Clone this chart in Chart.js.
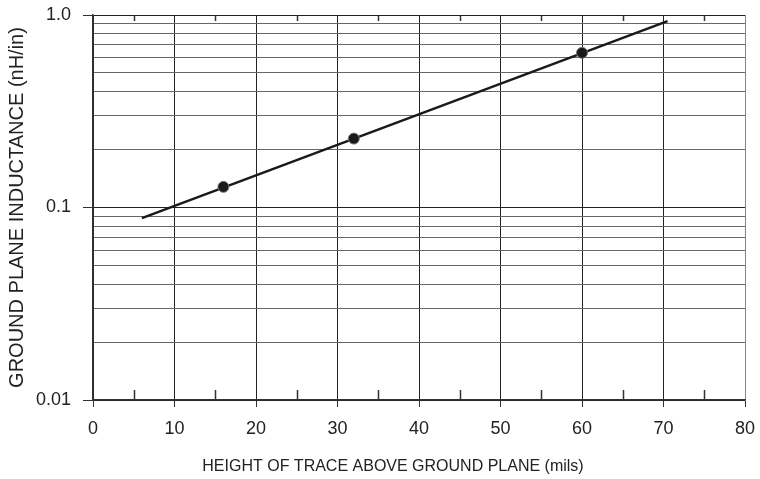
<!DOCTYPE html>
<html lang="en">
<head>
    <meta charset="UTF-8">
    <title>Ground Plane Inductance</title>
    <script src="https://cdn.jsdelivr.net/npm/chart.js"></script>
    <style>
        body { margin: 0; background: #fff; }
        #wrap { width: 760px; height: 479px; }
    </style>
</head>
<body>
<div id="wrap"><canvas id="inductChart"></canvas></div>
<script>
    // data
    var lineHeights = [6, 70.5];
    var lineInductance = [0.088, 0.93];
    var pointHeights = [16, 32, 60];
    var pointInductance = [0.128, 0.228, 0.636];
    var yTickValues = [0.01, 0.02, 0.03, 0.04, 0.05, 0.06, 0.07, 0.08, 0.09,
                       0.1, 0.2, 0.3, 0.4, 0.5, 0.6, 0.7, 0.8, 0.9, 1.0];
    var yTickLabels = { "0.01": "0.01", "0.1": "0.1", "1": "1.0" };
    var xMinorTicks = [5, 15, 25, 35, 45, 55, 65, 75];
    var xTitle = "HEIGHT OF TRACE ABOVE GROUND PLANE (mils)";
    var yTitle = "GROUND PLANE INDUCTANCE (nH/in)";

    var fontFam = "'Liberation Sans', Arial, sans-serif";

    function toXY(xs, ys) {
        var out = [];
        for (var i = 0; i < xs.length; i++) {
            out.push({ x: xs[i], y: ys[i] });
        }
        return out;
    }

    // short inward ticks at 5, 15, ... on top and bottom edges,
    // plus the x title, which sits a little left of the plot centre
    var extras = {
        id: "extras",
        afterDraw: function(chart) {
            var ctx = chart.ctx;
            var xs = chart.scales.x;
            var area = chart.chartArea;
            ctx.save();
            ctx.strokeStyle = "#333";
            ctx.lineWidth = 1.5;
            ctx.beginPath();
            for (var i = 0; i < xMinorTicks.length; i++) {
                var px = Math.round(xs.getPixelForValue(xMinorTicks[i])) + 0.5;
                ctx.moveTo(px, area.bottom);
                ctx.lineTo(px, area.bottom - 10);
                ctx.moveTo(px, area.top);
                ctx.lineTo(px, area.top + 6);
            }
            ctx.stroke();

            ctx.fillStyle = "#222";
            ctx.font = "16px " + fontFam;
            ctx.textAlign = "center";
            ctx.textBaseline = "middle";
            ctx.fillText(xTitle, (area.left + area.right) / 2 - 26, xs.bottom - 12);
            ctx.restore();
        }
    };

    var isDecade = function(v) {
        return yTickLabels[String(v)] !== undefined;
    };

    new Chart(document.getElementById("inductChart"), {
        type: "scatter",
        data: {
            datasets: [{
                data: toXY(lineHeights, lineInductance),
                showLine: true,
                borderColor: "#1a1a1a",
                borderWidth: 2.5,
                pointRadius: 0,
                order: 2
            }, {
                data: toXY(pointHeights, pointInductance),
                showLine: false,
                backgroundColor: "#1a1a1a",
                borderColor: "#777",
                borderWidth: 1,
                pointRadius: 5.5,
                order: 1
            }]
        },
        options: {
            responsive: true,
            maintainAspectRatio: false,
            animation: false,
            layout: { padding: { top: 15, right: 15, left: 0, bottom: 0 } },
            plugins: {
                legend: { display: false },
                tooltip: { enabled: false }
            },
            scales: {
                x: {
                    type: "linear",
                    min: 0,
                    max: 80,
                    afterFit: function(scale) {
                        scale.height = 79;
                        scale.paddingLeft = 0;
                        scale.paddingRight = 0;
                    },
                    ticks: {
                        stepSize: 10,
                        color: "#222",
                        padding: 11,
                        font: { family: fontFam, size: 18 }
                    },
                    grid: {
                        color: function(c) { return c.tick && c.tick.value === 80 ? "#888" : "#222"; },
                        lineWidth: 1,
                        tickLength: 7,
                        tickColor: "#333"
                    },
                    border: { color: "#333", width: 1.5 },
                    title: { display: false }
                },
                y: {
                    type: "logarithmic",
                    min: 0.01,
                    max: 1,
                    afterFit: function(scale) {
                        scale.width = 93;
                        scale.paddingTop = 0;
                        scale.paddingBottom = 0;
                    },
                    afterBuildTicks: function(scale) {
                        scale.ticks = yTickValues.map(function(v) {
                            return { value: v, major: isDecade(v) };
                        });
                    },
                    ticks: {
                        autoSkip: false,
                        color: "#222",
                        padding: 12,
                        font: { family: fontFam, size: 18 },
                        callback: function(v) {
                            var key = String(v);
                            return yTickLabels[key] !== undefined ? yTickLabels[key] : "";
                        }
                    },
                    grid: {
                        color: function(c) { return c.tick && isDecade(c.tick.value) ? "#222" : "#666"; },
                        lineWidth: 1,
                        tickLength: 10,
                        tickColor: function(c) { return c.tick && isDecade(c.tick.value) ? "#333" : "rgba(0,0,0,0)"; }
                    },
                    border: { color: "#333", width: 1.5 },
                    title: {
                        display: true,
                        text: yTitle,
                        color: "#222",
                        font: { family: fontFam, size: 20 },
                        padding: { top: 5, bottom: 0 }
                    }
                }
            }
        },
        plugins: [extras]
    });
</script>
</body>
</html>
